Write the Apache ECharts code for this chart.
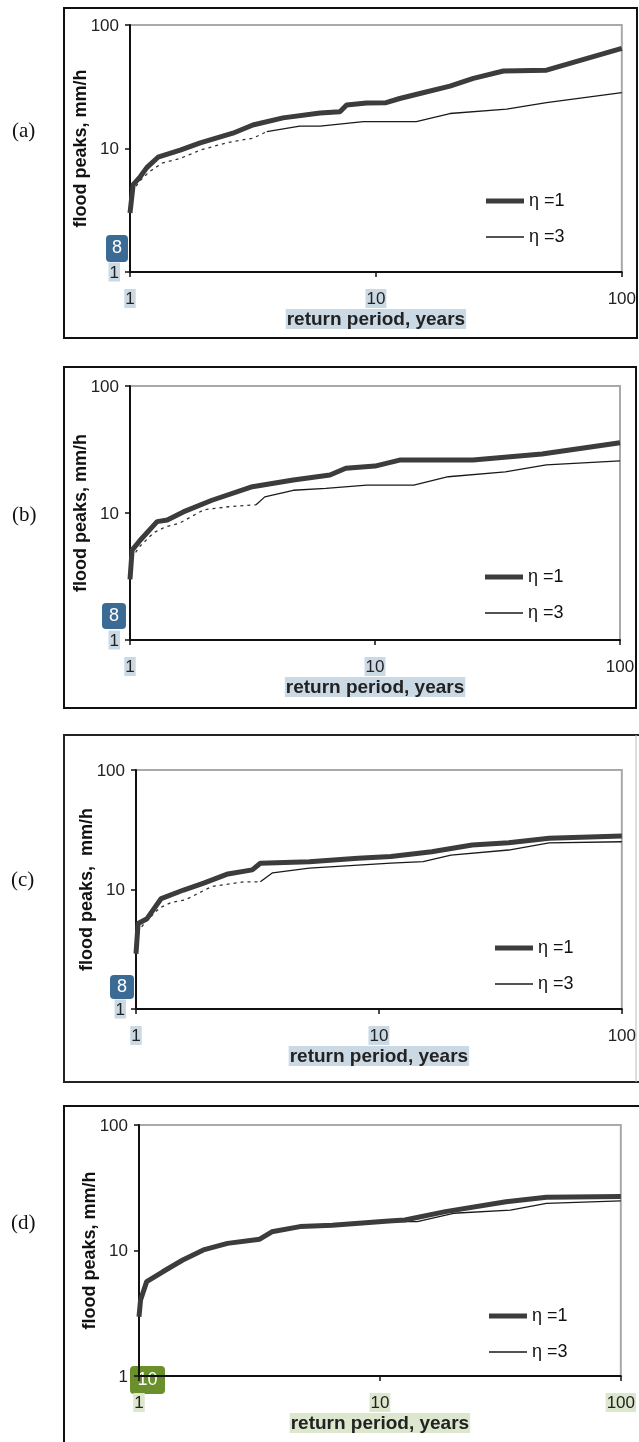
<!DOCTYPE html>
<html lang="en">
<head>
    <meta charset="UTF-8">
    <title>flood peaks vs return period</title>
    <style>
        html, body { margin: 0; padding: 0; background: #fff; }
        #chart { width: 639px; height: 1442px; }
    </style>
</head>
<body>
<div id="chart"></div>
<script src="https://cdn.jsdelivr.net/npm/echarts@6/dist/echarts.min.js"></script>
<script>
    'use strict';
    // return periods (years) and flood peaks (mm/h)
    let periodA1 = [1.0, 1.03, 1.1, 1.17, 1.3, 1.6, 1.93, 2.62, 3.16, 4.19, 5.93, 7.14, 7.6, 9.16, 11.0, 12.5, 15.1, 20, 24.9, 33, 49.4, 100];
    let peakA1 = [3.0, 5.1, 5.9, 7.0, 8.5, 9.7, 11.1, 13.3, 15.5, 17.7, 19.4, 19.8, 22.5, 23.4, 23.5, 25.4, 27.9, 32.0, 37.0, 42.4, 43.1, 64.7];
    let periodA3 = [1.0, 1.03, 1.1, 1.2, 1.35, 1.6, 1.93, 2.3, 2.62, 3.16, 3.6, 4.9, 5.93, 8.9, 14.6, 20, 34, 49.4, 100];
    let peakA3 = [3.0, 4.6, 5.5, 6.5, 7.6, 8.3, 9.7, 10.7, 11.4, 12.1, 13.7, 15.2, 15.2, 16.5, 16.5, 19.2, 20.8, 23.5, 28.3];

    let periodB1 = [1.0, 1.02, 1.1, 1.29, 1.42, 1.65, 2.16, 3.16, 4.64, 6.55, 7.6, 10.0, 12.6, 25.1, 48, 100];
    let peakB1 = [3.0, 5.1, 6.1, 8.55, 8.8, 10.2, 12.6, 16.1, 18.2, 19.9, 22.5, 23.4, 26.1, 26.1, 29.1, 35.8];
    let periodB3 = [1.0, 1.03, 1.1, 1.25, 1.4, 1.59, 2.0, 2.52, 3.27, 3.55, 4.64, 6.3, 9.25, 14.4, 19.9, 34, 50, 100];
    let peakB3 = [3.0, 4.6, 5.5, 7.0, 7.8, 8.3, 10.6, 11.2, 11.6, 13.4, 15.1, 15.6, 16.6, 16.6, 19.3, 21.1, 23.9, 25.7];

    let periodC1 = [1.0, 1.02, 1.11, 1.27, 1.57, 1.9, 2.39, 3.01, 3.25, 5.17, 8.2, 11.2, 16.5, 24.2, 34.2, 50.2, 100];
    let peakC1 = [2.9, 5.2, 5.7, 8.4, 9.9, 11.3, 13.5, 14.6, 16.6, 17.1, 18.3, 18.9, 20.7, 23.6, 24.6, 26.8, 28.0];
    let periodC3 = [1.0, 1.03, 1.1, 1.25, 1.4, 1.6, 2.05, 2.79, 3.25, 3.65, 5.17, 11.2, 15.2, 19.8, 34.2, 50.2, 100];
    let peakC3 = [2.9, 4.6, 5.4, 7.0, 7.8, 8.2, 10.6, 11.6, 11.6, 13.8, 15.1, 16.6, 17.1, 19.4, 21.4, 24.6, 25.1];

    let periodD1 = [1.0, 1.015, 1.076, 1.255, 1.52, 1.85, 2.33, 3.17, 3.56, 4.66, 6.34, 10.9, 12.7, 18.7, 33.4, 49.1, 100];
    let peakD1 = [2.97, 4.03, 5.65, 6.77, 8.4, 10.1, 11.4, 12.3, 14.1, 15.5, 15.9, 17.2, 17.5, 20.4, 24.5, 26.6, 26.9];
    let periodD3 = [1.0, 1.015, 1.076, 1.255, 1.52, 1.85, 2.33, 3.17, 3.56, 4.66, 6.34, 10.9, 14.3, 20.2, 34.8, 49.1, 100];
    let peakD3 = [2.97, 4.0, 5.6, 6.7, 8.3, 10.0, 11.3, 12.2, 14.0, 15.4, 15.8, 17.0, 17.0, 19.8, 21.0, 23.7, 24.9];

    // thin curve drawn dashed up to this return period (0 = never)
    let dashEnd = [3.6, 3.27, 3.25, 0];

    let panelLabels = ['(a)', '(b)', '(c)', '(d)'];
    let seriesNames = ['η =1', 'η =3'];
    let yTitles = ['flood peaks, mm/h', 'flood peaks, mm/h', 'flood peaks,  mm/h', 'flood peaks, mm/h'];
    let xTitle = 'return period, years';
    let badgeTexts = ['8', '8', '8', '10'];
    // which tick labels carry the highlight
    let xMarked = [[1, 10], [1, 10], [1, 10], [1, 10, 100]];
    let yMarked = [[1], [1], [1], []];

    let panels = [
        {t1: periodA1, q1: peakA1, t3: periodA3, q3: peakA3},
        {t1: periodB1, q1: peakB1, t3: periodB3, q3: peakB3},
        {t1: periodC1, q1: peakC1, t3: periodC3, q3: peakC3},
        {t1: periodD1, q1: peakD1, t3: periodD3, q3: peakD3}
    ];

    let grids = [
        {left: 130, top: 25, width: 492, height: 247},
        {left: 130, top: 386, width: 490, height: 254},
        {left: 136, top: 770, width: 487, height: 239},
        {left: 139, top: 1125, width: 486, height: 251}
    ];
    let legendPos = [[486, 192], [485, 568], [495, 939], [489, 1307]];
    let labelPos = [[12, 133], [12, 517], [11, 882], [11, 1225]];
    let badges = [[106, 235, 22, 27], [102, 603, 24, 26], [110, 975, 24, 24], [130, 1366, 35, 28]];

    let blueHi = '#cbd9e5', greenHi = '#dce7cd';
    let hiColors = [blueHi, blueHi, blueHi, greenHi];
    let badgeColors = ['#3b6b94', '#3b6b94', '#3b6b94', '#6a8f2b'];

    // legend swatches: plain bars, thick and thin
    let thickIcon = 'path://M0,0H38V5H0Z';
    let thinIcon = 'path://M0,0H38V1.3H0Z';

    function pairs(t, q) {
        return t.map(function (v, i) { return [v, q[i]]; });
    }

    function tickLabel(marked) {
        return function (v) {
            return marked.indexOf(v) >= 0 ? '{h|' + v + '}' : '{n|' + v + '}';
        };
    }

    let option = {
        animation: false,
        backgroundColor: '#fff',
        grid: [], xAxis: [], yAxis: [], series: [], legend: [], graphic: []
    };

    for (let i = 0; i < 4; i++) {
        let g = grids[i];
        let rich = {
            h: {backgroundColor: hiColors[i], padding: [2, 1, 0, 1], fontSize: 17, fontFamily: 'Liberation Sans', color: '#222'},
            n: {fontSize: 17, fontFamily: 'Liberation Sans', color: '#222', padding: [2, 1, 0, 1]}
        };
        option.grid.push({
            left: g.left, top: g.top, width: g.width, height: g.height,
            show: true, borderColor: '#a9a9a9', borderWidth: 2
        });
        option.xAxis.push({
            type: 'log', logBase: 10, min: 1, max: 100, gridIndex: i,
            axisLine: {lineStyle: {color: '#111', width: 2}},
            axisTick: {length: 5, lineStyle: {color: '#111', width: 1.5}},
            minorTick: {show: false},
            splitLine: {show: false},
            axisLabel: {margin: 17, formatter: tickLabel(xMarked[i]), rich: rich},
            name: xTitle, nameLocation: 'middle', nameGap: 37, nameMoveOverlap: false,
            nameTextStyle: {
                fontFamily: 'Liberation Sans', fontWeight: 'bold', fontSize: 19, color: '#222',
                backgroundColor: hiColors[i], padding: [1, 1, 0, 1]
            }
        });
        option.yAxis.push({
            type: 'log', logBase: 10, min: 1, max: 100, gridIndex: i,
            axisLine: {lineStyle: {color: '#111', width: 2}},
            axisTick: {length: 5, lineStyle: {color: '#111', width: 1.5}},
            minorTick: {show: false},
            splitLine: {show: false},
            axisLabel: {margin: 10, formatter: tickLabel(yMarked[i]), rich: rich},
            name: yTitles[i], nameLocation: 'middle', nameRotate: 90, nameGap: 40, nameMoveOverlap: false,
            nameTextStyle: {fontFamily: 'Liberation Sans', fontWeight: 'bold', fontSize: 18, color: '#111'}
        });

        let p = panels[i];
        let thin = pairs(p.t3, p.q3);
        let cut = dashEnd[i];
        let solidThin = cut > 0 ? thin.filter(function (d) { return d[0] >= cut; }) : thin;
        option.series.push({
            name: seriesNames[1], type: 'line', xAxisIndex: i, yAxisIndex: i,
            data: solidThin, showSymbol: false, symbol: 'none',
            lineStyle: {color: '#1a1a1a', width: 1.3}, itemStyle: {color: '#1a1a1a'}, z: 2
        });
        if (cut > 0) {
            option.series.push({
                name: seriesNames[1], type: 'line', xAxisIndex: i, yAxisIndex: i,
                data: thin.filter(function (d) { return d[0] <= cut; }), showSymbol: false, symbol: 'none',
                lineStyle: {color: '#333', width: 1.3, type: [3, 4]}, itemStyle: {color: '#333'}, z: 2
            });
        }
        option.series.push({
            name: seriesNames[0], type: 'line', xAxisIndex: i, yAxisIndex: i,
            data: pairs(p.t1, p.q1), showSymbol: false, symbol: 'none',
            lineStyle: {color: '#3c3c3c', width: 5}, itemStyle: {color: '#3c3c3c'}, z: 3
        });

        option.legend.push({
            data: [{name: seriesNames[0], icon: thickIcon}, {name: seriesNames[1], icon: thinIcon}],
            orient: 'vertical', selectedMode: false, padding: 0,
            left: legendPos[i][0], top: legendPos[i][1],
            itemWidth: 38, itemHeight: 14, itemGap: 18, symbolKeepAspect: true,
            textStyle: {fontFamily: 'Liberation Sans', fontSize: 18, color: '#111'}
        });

        option.graphic.push({
            type: 'text', left: labelPos[i][0], top: labelPos[i][1] - 12,
            style: {text: panelLabels[i], font: '21px "Liberation Serif"', fill: '#111'}
        });
        let b = badges[i];
        option.graphic.push({
            type: 'group', left: b[0], top: b[1], z: 100,
            children: [
                {type: 'rect', shape: {x: 0, y: 0, width: b[2], height: b[3], r: 4}, style: {fill: badgeColors[i]}},
                {type: 'text', x: b[2] / 2, y: b[3] / 2,
                    style: {text: badgeTexts[i], font: '18px "Liberation Sans"', fill: '#fff', align: 'center', verticalAlign: 'middle'}}
            ]
        });
    }

    // panel frames
    option.graphic.push(
        {type: 'rect', shape: {x: 64, y: 8, width: 573, height: 330}, style: {fill: null, stroke: '#111', lineWidth: 2}},
        {type: 'rect', shape: {x: 64, y: 367, width: 572, height: 341}, style: {fill: null, stroke: '#111', lineWidth: 2}},
        {type: 'polyline', shape: {points: [[639, 735], [64, 735], [64, 1082], [639, 1082]]}, style: {fill: null, stroke: '#222', lineWidth: 2}},
        {type: 'line', shape: {x1: 636, y1: 735, x2: 636, y2: 1082}, style: {stroke: '#bbb', lineWidth: 1}},
        {type: 'polyline', shape: {points: [[639, 1106], [64, 1106], [64, 1442]]}, style: {fill: null, stroke: '#111', lineWidth: 2}}
    );

    let chart = echarts.init(document.getElementById('chart'), null, {renderer: 'canvas'});
    chart.setOption(option);
</script>
</body>
</html>
